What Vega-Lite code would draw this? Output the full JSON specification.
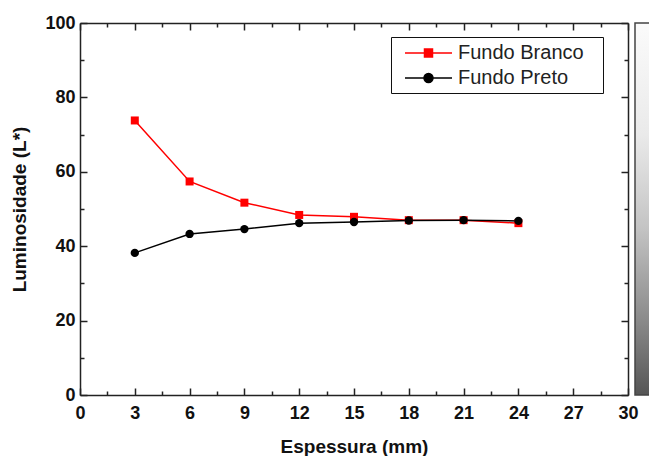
{
  "$schema": "https://vega.github.io/schema/vega-lite/v6.json",
  "padding": {"left": 10, "top": 14, "right": 0, "bottom": 0},
  "spacing": 7,
  "bounds": "flush",
  "config": {
    "font": "Liberation Sans",
    "view": {"stroke": null},
    "axis": {
      "domainColor": "#222", "domainWidth": 1.5,
      "tickColor": "#222", "tickWidth": 1.5,
      "labelFont": "Liberation Sans", "labelFontSize": 18, "labelFontWeight": "bold", "labelColor": "#111",
      "titleFont": "Liberation Sans", "titleFontSize": 19, "titleFontWeight": "bold", "titleColor": "#111",
      "grid": false, "labelFlush": false, "labelOverlap": false
    }
  },
  "hconcat": [
    {
      "width": 548,
      "height": 372,
      "data": {"values": [
        {"serie": "Fundo Branco", "esp": 3, "lum": 73.8},
        {"serie": "Fundo Branco", "esp": 6, "lum": 57.4},
        {"serie": "Fundo Branco", "esp": 9, "lum": 51.7},
        {"serie": "Fundo Branco", "esp": 12, "lum": 48.4},
        {"serie": "Fundo Branco", "esp": 15, "lum": 47.9},
        {"serie": "Fundo Branco", "esp": 18, "lum": 47.0},
        {"serie": "Fundo Branco", "esp": 21, "lum": 47.0},
        {"serie": "Fundo Branco", "esp": 24, "lum": 46.2},
        {"serie": "Fundo Preto", "esp": 3, "lum": 38.2},
        {"serie": "Fundo Preto", "esp": 6, "lum": 43.3},
        {"serie": "Fundo Preto", "esp": 9, "lum": 44.6},
        {"serie": "Fundo Preto", "esp": 12, "lum": 46.2},
        {"serie": "Fundo Preto", "esp": 15, "lum": 46.5},
        {"serie": "Fundo Preto", "esp": 18, "lum": 46.9},
        {"serie": "Fundo Preto", "esp": 21, "lum": 47.0},
        {"serie": "Fundo Preto", "esp": 24, "lum": 46.8}
      ]},
      "layer": [
        {
          "mark": {"type": "line", "strokeWidth": 1.5},
          "encoding": {
            "x": {"field": "esp", "type": "quantitative", "scale": {"domain": [0, 30], "nice": false},
              "axis": {"orient": "bottom", "title": "Espessura (mm)",
                "values": [0,1.5,3,4.5,6,7.5,9,10.5,12,13.5,15,16.5,18,19.5,21,22.5,24,25.5,27,28.5,30],
                "labelExpr": "datum.value % 3 === 0 ? '' + datum.value : ''",
                "tickSize": {"condition": {"test": "datum.value % 3 === 0", "value": -7}, "value": -4},
                "labelPadding": 16, "titlePadding": 12}},
            "y": {"field": "lum", "type": "quantitative", "scale": {"domain": [0, 100], "nice": false},
              "axis": {"orient": "left", "title": "Luminosidade (L*)",
                "values": [0,10,20,30,40,50,60,70,80,90,100],
                "labelExpr": "datum.value % 20 === 0 ? '' + datum.value : ''",
                "tickSize": {"condition": {"test": "datum.value % 20 === 0", "value": -7}, "value": -4},
                "labelPadding": 12, "titlePadding": 15}},
            "color": {"field": "serie", "type": "nominal",
              "scale": {"domain": ["Fundo Branco", "Fundo Preto"], "range": ["#ff0000", "#000000"]},
              "legend": {
                "orient": "none", "legendX": 311, "legendY": 14, "title": null,
                "strokeColor": "#111", "fillColor": "white", "padding": 5,
                "labelFont": "Liberation Sans", "labelFontSize": 20, "labelColor": "#222",
                "symbolSize": 400, "rowPadding": 4, "labelOffset": 18.5, "symbolOffset": 21.5,
                "symbolStrokeWidth": 1.5,
                "encode": {"symbols": {"update": {
                  "shape": {"signal": "datum.value === 'Fundo Branco' ? 'M16.6,0M-2.35,0H-0.4M0.4,0H2.35M-0.4,-0.4H0.4V0.4H-0.4Z' : 'M16.6,0M-2.35,0H-0.45M0.45,0H2.35M0.45,0A0.45,0.45,0,1,1,-0.45,0A0.45,0.45,0,1,1,0.45,0Z'"},
                  "fill": {"signal": "datum.value === 'Fundo Branco' ? '#ff0000' : '#000000'"},
                  "stroke": {"signal": "datum.value === 'Fundo Branco' ? '#ff0000' : '#000000'"},
                  "strokeWidth": {"value": 1.5}
                }}}
              }}
          }
        },
        {
          "transform": [{"filter": "datum.serie === 'Fundo Branco'"}],
          "mark": {"type": "point", "shape": "square", "filled": true, "size": 64, "opacity": 1},
          "encoding": {
            "x": {"field": "esp", "type": "quantitative", "axis": null},
            "y": {"field": "lum", "type": "quantitative", "axis": null},
            "color": {"field": "serie", "type": "nominal"}
          }
        },
        {
          "transform": [{"filter": "datum.serie === 'Fundo Preto'"}],
          "mark": {"type": "point", "shape": "circle", "filled": true, "size": 70, "opacity": 1},
          "encoding": {
            "x": {"field": "esp", "type": "quantitative", "axis": null},
            "y": {"field": "lum", "type": "quantitative", "axis": null},
            "color": {"field": "serie", "type": "nominal"}
          }
        },
        {
          "mark": {"type": "point", "opacity": 0},
          "encoding": {
            "x": {"field": "esp", "type": "quantitative",
              "axis": {"orient": "top", "title": null, "labels": false,
                "values": [0,1.5,3,4.5,6,7.5,9,10.5,12,13.5,15,16.5,18,19.5,21,22.5,24,25.5,27,28.5,30],
                "tickSize": {"condition": {"test": "datum.value % 3 === 0", "value": -7}, "value": -4}}},
            "y": {"field": "lum", "type": "quantitative",
              "axis": {"orient": "right", "title": null, "labels": false,
                "values": [0,10,20,30,40,50,60,70,80,90,100],
                "tickSize": {"condition": {"test": "datum.value % 20 === 0", "value": -7}, "value": -4}}}
          }
        }
      ],
      "resolve": {"axis": {"x": "independent", "y": "independent"}}
    },
    {
      "width": 30,
      "height": 372,
      "data": {"values": [{"lo": 0, "hi": 100}]},
      "mark": {"type": "rect", "stroke": "#444", "strokeWidth": 1.5,
        "color": {"gradient": "linear", "x1": 0, "y1": 0, "x2": 0, "y2": 1,
          "stops": [
            {"offset": 0, "color": "#fbfbfb"},
            {"offset": 0.3, "color": "#eaeaea"},
            {"offset": 0.55, "color": "#c4c4c4"},
            {"offset": 0.8, "color": "#8a8a8a"},
            {"offset": 1, "color": "#555555"}
          ]}},
      "encoding": {
        "y": {"field": "lo", "type": "quantitative", "scale": {"domain": [0, 100], "nice": false}, "axis": null},
        "y2": {"field": "hi"}
      }
    }
  ]
}
